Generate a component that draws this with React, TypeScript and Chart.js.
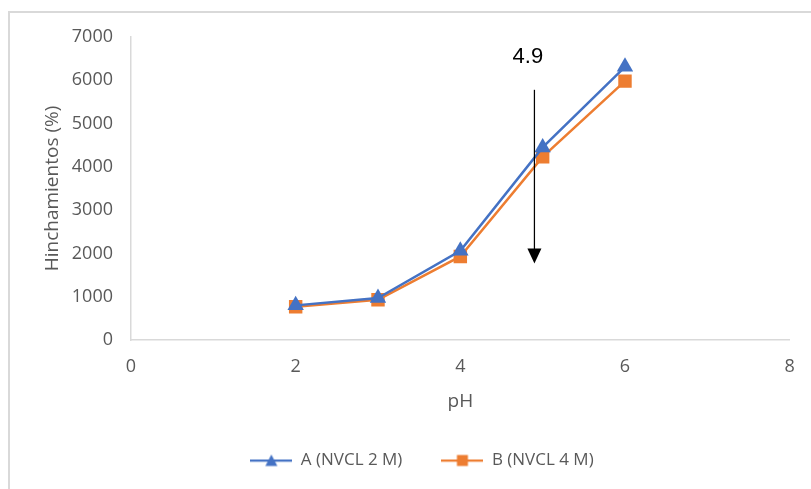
import React, { useEffect, useRef } from "react";
import { Chart, registerables } from "chart.js";

Chart.register(...registerables);

// ---- data ----
const phValues = [2, 3, 4, 5, 6];
const seriesA = [800, 970, 2060, 4450, 6310];
const seriesB = [770, 930, 1930, 4230, 5980];
const seriesNames = ["A (NVCL 2 M)", "B (NVCL 4 M)"];
const seriesColors = ["#4472C4", "#ED7D31"];
const seriesShapes = ["triangle", "rect"];
const xMin = 0;
const xMax = 8;
const xStep = 2;
const yMin = 0;
const yMax = 7000;
const yStep = 1000;
const xTitle = "pH";
const yTitle = "Hinchamientos (%)";
// annotation arrow at pH 4.9
const arrowX = 4.9;
const arrowTop = 5780;
const arrowBottom = 1770;
const arrowLabel = "4.9";
const arrowLabelX = 4.82;
const arrowLabelY = 6530;

const FONT = "'Open Sans', Lato, sans-serif";
const TEXT_COLOR = "#595959";
const AXIS_COLOR = "#d9d9d9";

function makeLegendIcon(color: string, shape: string): HTMLCanvasElement {
  const c = document.createElement("canvas");
  c.width = 42;
  c.height = 16;
  const ctx = c.getContext("2d")!;
  ctx.strokeStyle = color;
  ctx.lineWidth = 2.25;
  ctx.beginPath();
  ctx.moveTo(0, 8);
  ctx.lineTo(42, 8);
  ctx.stroke();
  ctx.fillStyle = color;
  ctx.beginPath();
  if (shape === "triangle") {
    ctx.moveTo(21, 2);
    ctx.lineTo(27, 13.5);
    ctx.lineTo(15, 13.5);
    ctx.closePath();
  } else {
    ctx.rect(15.5, 2.5, 11, 11);
  }
  ctx.fill();
  return c;
}

const framePlugin = {
  id: "frame",
  beforeDraw(chart: any) {
    const ctx = chart.ctx;
    ctx.save();
    ctx.fillStyle = "#ffffff";
    ctx.fillRect(0, 0, chart.width, chart.height);
    ctx.strokeStyle = AXIS_COLOR;
    ctx.lineWidth = 2;
    ctx.strokeRect(9, 12, 900, 600);
    ctx.restore();
  },
};

const arrowPlugin = {
  id: "arrowNote",
  afterDatasetsDraw(chart: any) {
    const { ctx, scales } = chart;
    const x = scales.x.getPixelForValue(arrowX);
    const yTop = scales.y.getPixelForValue(arrowTop);
    const yTip = scales.y.getPixelForValue(arrowBottom);
    const headH = 15;
    const headW = 14;
    ctx.save();
    ctx.strokeStyle = "#000000";
    ctx.lineWidth = 1.25;
    ctx.beginPath();
    ctx.moveTo(x, yTop);
    ctx.lineTo(x, yTip - headH + 1);
    ctx.stroke();
    ctx.fillStyle = "#000000";
    ctx.beginPath();
    ctx.moveTo(x, yTip);
    ctx.lineTo(x - headW / 2, yTip - headH);
    ctx.lineTo(x + headW / 2, yTip - headH);
    ctx.closePath();
    ctx.fill();
    ctx.font = "22px 'Liberation Sans', Arial, sans-serif";
    ctx.textAlign = "center";
    ctx.textBaseline = "middle";
    ctx.fillText(
      arrowLabel,
      scales.x.getPixelForValue(arrowLabelX),
      scales.y.getPixelForValue(arrowLabelY)
    );
    ctx.restore();
  },
};

export default function App() {
  const ref = useRef<HTMLCanvasElement | null>(null);

  useEffect(() => {
    if (!ref.current) return;
    const icons = seriesColors.map((c, i) => makeLegendIcon(c, seriesShapes[i]));
    const makeData = (vals: number[]) => phValues.map((x, i) => ({ x, y: vals[i] }));
    const allSeries = [seriesA, seriesB];
    const tickFont = { family: FONT, size: 18 };
    const titleFont = { family: FONT, size: 19 };
    const legendFont = { family: FONT, size: 17 };

    const chart = new Chart(ref.current, {
      type: "scatter",
      data: {
        datasets: allSeries.map((vals, i) => ({
          label: seriesNames[i],
          data: makeData(vals),
          showLine: true,
          borderColor: seriesColors[i],
          backgroundColor: seriesColors[i],
          borderWidth: 2.5,
          pointStyle: seriesShapes[i] as any,
          pointRadius: 9.5,
          pointHoverRadius: 9.5,
          pointBackgroundColor: seriesColors[i],
          pointBorderColor: seriesColors[i],
          pointBorderWidth: 0,
          tension: 0,
        })),
      },
      options: {
        responsive: false,
        animation: false,
        events: [],
        layout: { padding: { left: 51, right: 18, top: 37, bottom: 10 } },
        plugins: {
          tooltip: { enabled: false },
          legend: {
            display: true,
            position: "bottom",
            labels: {
              usePointStyle: true,
              pointStyleWidth: 42,
              padding: 39,
              color: TEXT_COLOR,
              font: legendFont,
              generateLabels: (ch: any) => {
                const items = Chart.defaults.plugins.legend.labels.generateLabels(ch);
                return items.map((it: any, i: number) => ({ ...it, pointStyle: icons[i] }));
              },
            },
          },
        },
        scales: {
          x: {
            type: "linear",
            min: xMin,
            max: xMax,
            afterFit: (s: any) => {
              s.height = 73;
            },
            ticks: {
              stepSize: xStep,
              padding: 16.2,
              color: TEXT_COLOR,
              font: tickFont,
              callback: (v: any) => String(v),
            },
            grid: { display: false, drawTicks: false },
            border: { display: true, color: AXIS_COLOR, width: 1.5 },
            title: {
              display: true,
              text: xTitle,
              color: TEXT_COLOR,
              font: titleFont,
              padding: { top: 0, bottom: -0.4 },
            },
          },
          y: {
            type: "linear",
            min: yMin,
            max: yMax,
            afterFit: (s: any) => {
              s.width = 80;
            },
            ticks: {
              stepSize: yStep,
              padding: 18,
              color: TEXT_COLOR,
              font: tickFont,
              callback: (v: any) => String(v),
            },
            grid: { display: false, drawTicks: false },
            border: { display: true, color: AXIS_COLOR, width: 1.5 },
            title: {
              display: true,
              text: yTitle,
              color: TEXT_COLOR,
              font: titleFont,
              padding: { top: -9.4, bottom: 0 },
            },
          },
        },
      },
      plugins: [framePlugin, arrowPlugin],
    } as any);

    return () => chart.destroy();
  }, []);

  return (
    <div style={{ position: "absolute", left: 0, top: 0, width: 811, height: 489 }}>
      <canvas ref={ref} width={811} height={489} style={{ display: "block" }} />
    </div>
  );
}
